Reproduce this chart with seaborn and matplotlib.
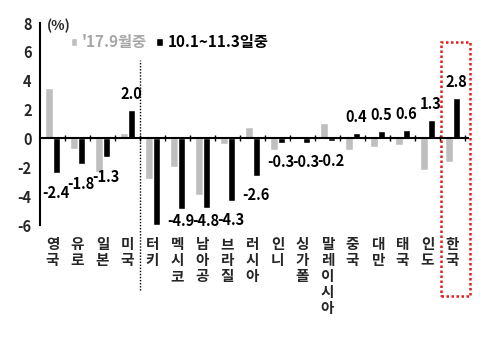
import matplotlib
matplotlib.use("Agg")
import matplotlib.pyplot as plt
import seaborn as sns
import pandas as pd
from matplotlib.patches import Rectangle

countries = ["영국", "유로", "일본", "미국", "터키", "멕시코", "남아공", "브라질", "러시아",
             "인니", "싱가폴", "말레이시아", "중국", "대만", "태국", "인도", "한국"]
series_names = ["'17.9월중", "10.1~11.3일중"]
sep_values = [3.5, -0.7, -2.3, 0.4, -2.8, -2.0, -3.9, -0.4, 0.8,
              -0.8, 0.05, 1.1, -0.8, -0.6, -0.45, -2.2, -1.6]
recent_values = [-2.4, -1.8, -1.3, 2.0, -6.0, -4.9, -4.8, -4.3, -2.6,
                 -0.3, -0.3, -0.2, 0.4, 0.5, 0.6, 1.3, 2.8]
recent_labels = ["-2.4", "-1.8", "-1.3", "2.0", "", "-4.9", "-4.8", "-4.3", "-2.6",
                 "-0.3", "-0.3", "-0.2", "0.4", "0.5", "0.6", "1.3", "2.8"]
yticks = [-6, -4, -2, 0, 2, 4, 6, 8]

df = pd.DataFrame({
    "country": countries * 2,
    "series": [series_names[0]] * len(countries) + [series_names[1]] * len(countries),
    "value": sep_values + recent_values,
})

sns.set_theme(style="white")
plt.rcParams["font.family"] = ["Noto Sans CJK KR", "DejaVu Sans"]

fig = plt.figure(figsize=(5.0, 3.42), dpi=100)
ax = fig.add_axes([0.08, 0.342, 0.856, 0.5907])

GRAY = "#BFBFBF"
BLACK = "#000000"
bar_w = 0.58
sns.barplot(data=df, x="country", y="value", hue="series", order=countries,
            hue_order=series_names, palette=[GRAY, BLACK], width=bar_w,
            saturation=1, dodge=True, ax=ax, errorbar=None)

ax.set_xlim(-0.5, 16.62)
ax.set_ylim(-6, 8)
ax.set_xlabel("")
ax.set_ylabel("")
ax.set_yticks(yticks)
ax.set_yticklabels([str(t) for t in yticks], fontsize=10.5, fontweight="bold")
ax.tick_params(axis="y", direction="out", length=4, width=1.2, color="black", pad=2)

ax.spines["top"].set_visible(False)
ax.spines["right"].set_visible(False)
ax.spines["left"].set_color("black")
ax.spines["left"].set_linewidth(1.5)
ax.spines["bottom"].set_position(("data", 0))
ax.spines["bottom"].set_color("black")
ax.spines["bottom"].set_linewidth(1.5)

ax.set_xticks([i + 0.5 for i in range(len(countries))])
ax.set_xticklabels([])
ax.tick_params(axis="x", direction="inout", length=5, width=1.0, color="black", bottom=True)

# category labels stacked vertically
for i, c in enumerate(countries):
    ax.text(i, -0.055, "\n".join(c), transform=ax.get_xaxis_transform(),
            ha="center", va="top", fontsize=10.5, fontweight="bold",
            linespacing=1.0, clip_on=False)

# value labels on recent series
for i, (v, lab) in enumerate(zip(recent_values, recent_labels)):
    if not lab:
        continue
    x = i + bar_w / 4
    if v >= 0:
        y = v + 1.1
    else:
        y = max(v - 1.35, -5.72)
    ax.text(x, y, lab, ha="center", va="center", fontsize=10.5, fontweight="bold",
            color="black")

# unit label
ax.text(0.015, 0.985, "(%)", transform=ax.transAxes, ha="left", va="center",
        fontsize=10, fontweight="bold")

# legend
handles, labels = ax.get_legend_handles_labels()
leg = ax.legend(handles, labels, loc="center left", bbox_to_anchor=(0.05, 0.905),
                ncol=2, frameon=False, fontsize=11, handlelength=0.45, handleheight=0.45,
                handletextpad=0.3, columnspacing=0.6, borderpad=0.1)
texts = leg.get_texts()
texts[0].set_color("#A6A6A6")
texts[0].set_fontweight("bold")
texts[1].set_color("black")
texts[1].set_fontweight("bold")

# dotted separator between advanced and emerging
ax.axvline(3.5, ymin=-0.32, ymax=0.817, color="black", linestyle=(0, (1, 1.2)),
           linewidth=1.0, clip_on=False)

# red dotted box around Korea
rect = Rectangle((15.54, -0.35), 1.16, 1.256, transform=ax.get_xaxis_transform(),
                 fill=False, edgecolor="#E0201B", linestyle=(0, (1, 1)),
                 linewidth=1.8, clip_on=False)
ax.add_patch(rect)

fig.savefig("out.png", dpi=100)
